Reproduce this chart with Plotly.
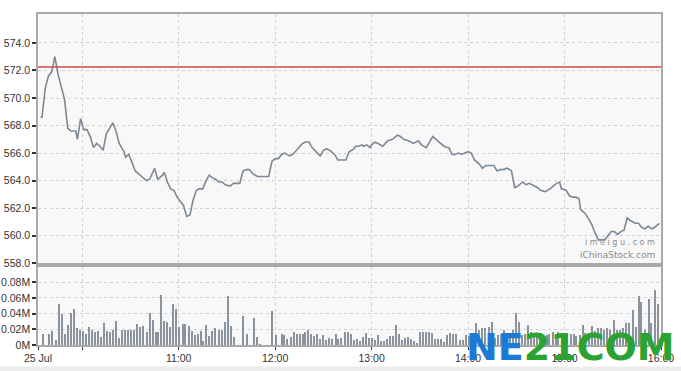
import plotly.graph_objects as go
from plotly.subplots import make_subplots
from datetime import datetime, timedelta

DAY = "2013-07-25"

price_times = [
    "09:34", "09:35", "09:37", "09:39", "09:41", "09:43", "09:45", "09:47", "09:49", "09:51",
    "09:53", "09:56", "09:57", "09:59", "10:01", "10:03", "10:05", "10:07", "10:09", "10:11",
    "10:13", "10:15", "10:17", "10:19", "10:21", "10:23", "10:26", "10:27", "10:29", "10:31",
    "10:33", "10:37", "10:40", "10:42", "10:45", "10:47", "10:50", "10:51", "10:53", "10:55",
    "10:57", "10:59", "11:01", "11:03", "11:05", "11:07", "11:09", "11:11", "11:13", "11:15",
    "11:17", "11:19", "11:21", "11:23", "11:25", "11:27", "11:29", "11:32", "11:34", "11:36",
    "11:38", "11:40", "11:42", "11:44", "11:46", "11:49", "11:52", "11:56", "11:58", "12:00",
    "12:02", "12:04", "12:06", "12:09", "12:11", "12:14", "12:17", "12:19", "12:21", "12:23",
    "12:26", "12:28", "12:30", "12:32", "12:34", "12:37", "12:39", "12:42", "12:44", "12:46",
    "12:49", "12:50", "12:52", "12:54", "12:55", "12:57", "12:59", "13:00", "13:02", "13:04",
    "13:07", "13:10", "13:13", "13:16", "13:18", "13:20", "13:23", "13:26", "13:29", "13:31",
    "13:34", "13:36", "13:38", "13:40", "13:43", "13:45", "13:47", "13:48", "13:50", "13:52",
    "13:54", "13:56", "13:58", "14:00", "14:02", "14:04", "14:07", "14:09", "14:11", "14:14",
    "14:16", "14:18", "14:20", "14:22", "14:24", "14:26", "14:27", "14:29", "14:31", "14:34",
    "14:36", "14:38", "14:40", "14:43", "14:45", "14:48", "14:51", "14:53", "14:55", "14:57",
    "14:58", "15:01", "15:03", "15:05", "15:07", "15:09", "15:10", "15:13", "15:15", "15:17",
    "15:19", "15:21", "15:23", "15:25", "15:27", "15:29", "15:31", "15:33", "15:35", "15:37",
    "15:39", "15:41", "15:44", "15:46", "15:48", "15:50", "15:52", "15:54", "15:56", "15:59",
]
price_values = [
    568.6, 568.6, 570.7, 571.6, 571.9, 573.0, 571.7, 570.7, 569.9, 567.8,
    567.6, 567.6, 567.0, 568.5, 567.7, 567.7, 567.2, 566.4, 566.7, 566.5,
    566.2, 567.4, 567.8, 568.2, 567.6, 566.7, 566.1, 565.7, 565.9, 565.3,
    564.7, 564.3, 564.0, 564.1, 564.9, 564.1, 564.4, 564.6, 563.9, 563.4,
    563.3, 562.8, 562.5, 562.2, 561.4, 561.5, 562.6, 563.3, 563.4, 563.4,
    564.0, 564.4, 564.2, 564.1, 563.9, 563.9, 563.7, 563.6, 563.8, 563.8,
    563.8, 564.7, 564.8, 564.8, 564.5, 564.3, 564.3, 564.3, 565.4, 565.6,
    565.6, 565.9, 566.0, 565.8, 565.9, 566.3, 566.7, 566.8, 566.8, 566.4,
    566.0, 565.8, 566.2, 566.3, 566.2, 565.9, 565.5, 565.5, 565.5, 566.1,
    566.3, 566.5, 566.5, 566.6, 566.5, 566.6, 566.4, 566.6, 566.8, 566.7,
    566.5, 566.9, 567.0, 567.3, 567.2, 567.0, 566.9, 566.7, 566.9, 566.6,
    566.4, 566.8, 567.2, 567.0, 566.7, 566.5, 566.4, 566.4, 565.9, 565.9,
    566.0, 565.9, 566.0, 566.1, 566.0, 565.5, 565.2, 564.9, 565.1, 565.1,
    565.1, 564.7, 564.8, 564.8, 564.9, 564.8, 564.7, 563.5, 563.6, 563.9,
    563.7, 563.8, 563.7, 563.5, 563.3, 563.2, 563.4, 563.6, 563.8, 563.9,
    563.4, 563.3, 562.9, 562.8, 562.8, 562.7, 561.9, 561.6, 561.2, 560.8,
    560.2, 559.7, 559.7, 559.7, 560.0, 560.3, 560.3, 560.1, 560.3, 560.4,
    561.3, 561.1, 560.9, 560.9, 560.6, 560.5, 560.7, 560.5, 560.6, 560.9,
]

# volume bars: minutes after 09:30 and volume in millions of shares
vol_minutes = [
    5.8, 9.5, 11.4, 13.5, 15.4, 17.2, 19.3, 21.2, 23.0, 24.9,
    26.8, 28.6, 30.5, 32.4, 34.0, 36.1, 38.0, 40.0, 41.7, 43.6,
    45.4, 47.3, 49.4, 51.0, 52.9, 54.8, 56.6, 58.7, 60.6, 62.4,
    64.3, 66.2, 68.0, 70.1, 72.0, 73.9, 75.7, 77.4, 79.3, 81.1,
    83.0, 84.9, 86.7, 88.6, 90.5, 92.5, 94.2, 96.3, 98.1, 100.0,
    101.9, 103.7, 105.4, 107.3, 109.1, 111.0, 112.9, 114.9, 116.8, 118.7,
    120.7, 122.4, 124.5, 130.3, 132.8, 136.7, 138.6, 140.5, 148.3, 150.4,
    154.2, 155.8, 157.7, 159.8, 161.6, 163.5, 165.4, 167.2, 168.9, 170.5,
    172.4, 174.3, 176.1, 178.0, 180.1, 181.9, 183.8, 185.7, 187.8, 189.4,
    191.3, 193.4, 195.2, 197.1, 199.0, 200.9, 202.7, 204.6, 206.5, 208.3,
    210.2, 212.1, 213.9, 216.0, 217.8, 219.7, 221.6, 223.4, 225.5, 227.4,
    229.2, 231.1, 233.0, 234.8, 236.7, 238.6, 240.2, 241.9, 243.8, 245.7,
    247.5, 249.4, 251.3, 253.1, 254.8, 256.9, 258.7, 260.6, 262.5, 265.1,
    267.0, 268.9, 270.9, 272.8, 275.1, 277.0, 279.0, 280.9, 282.8, 284.9,
    286.7, 288.6, 290.7, 292.5, 294.4, 296.3, 298.1, 300.0, 301.7, 303.7,
    305.6, 307.5, 309.3, 311.2, 313.1, 314.9, 317.0, 318.9, 320.7, 322.6,
    324.5, 326.3, 328.2, 330.1, 331.9, 333.8, 335.7, 337.5, 339.4, 341.3,
    343.1, 345.0, 346.9, 348.7, 350.6, 352.5, 354.3, 356.2, 358.1, 360.8,
    362.9, 364.7, 366.6, 368.5, 370.3, 372.4, 374.3, 376.4, 377.8, 379.9,
    382.6, 384.0, 386.5, 388.4,
]
vol_values = [
    0.015, 0.015, 0.019, 0.007, 0.053, 0.040, 0.014, 0.026, 0.042, 0.047,
    0.022, 0.020, 0.019, 0.015, 0.024, 0.020, 0.017, 0.018, 0.011, 0.029,
    0.018, 0.017, 0.020, 0.031, 0.009, 0.020, 0.020, 0.020, 0.020, 0.020,
    0.027, 0.023, 0.025, 0.017, 0.041, 0.033, 0.017, 0.017, 0.064, 0.031,
    0.030, 0.024, 0.053, 0.047, 0.024, 0.027, 0.027, 0.025, 0.018, 0.013,
    0.015, 0.019, 0.006, 0.026, 0.012, 0.018, 0.022, 0.020, 0.020, 0.030,
    0.063, 0.025, 0.011, 0.037, 0.014, 0.035, 0.011, 0.001, 0.044, 0.013,
    0.015, 0.013, 0.008, 0.011, 0.017, 0.015, 0.014, 0.015, 0.017, 0.020,
    0.014, 0.012, 0.015, 0.008, 0.013, 0.007, 0.010, 0.008, 0.015, 0.008,
    0.010, 0.017, 0.017, 0.015, 0.007, 0.008, 0.006, 0.011, 0.016, 0.010,
    0.010, 0.007, 0.013, 0.006, 0.006, 0.008, 0.012, 0.012, 0.026, 0.014,
    0.007, 0.010, 0.011, 0.008, 0.006, 0.003, 0.017, 0.017, 0.017, 0.017,
    0.016, 0.008, 0.008, 0.008, 0.005, 0.013, 0.016, 0.015, 0.015, 0.007,
    0.007, 0.013, 0.012, 0.011, 0.028, 0.020, 0.022, 0.022, 0.024, 0.030,
    0.009, 0.013, 0.014, 0.020, 0.011, 0.015, 0.020, 0.041, 0.030, 0.013,
    0.014, 0.026, 0.017, 0.013, 0.013, 0.013, 0.011, 0.013, 0.014, 0.017,
    0.014, 0.017, 0.011, 0.014, 0.014, 0.014, 0.014, 0.012, 0.013, 0.026,
    0.016, 0.014, 0.025, 0.019, 0.022, 0.022, 0.020, 0.022, 0.020, 0.032,
    0.020, 0.020, 0.022, 0.029, 0.029, 0.045, 0.024, 0.063, 0.056, 0.020,
    0.059, 0.029, 0.071, 0.053,
]

ref_price = 572.25
price_ticks = [558, 560, 562, 564, 566, 568, 570, 572, 574]
vol_ticks = [0, 0.02, 0.04, 0.06, 0.08]
vol_tick_text = ["0M", "0.02M", "0.04M", "0.06M", "0.08M"]
x_tick_times = ["09:32:30", "10:00", "11:00", "12:00", "13:00", "14:00", "15:00", "16:00"]
x_tick_text = ["25 Jul", "", "11:00", "12:00", "13:00", "14:00", "15:00", "16:00"]
x_range = ["09:32:30", "16:00"]

open_dt = datetime(2013, 7, 25, 9, 30)
px_x = [f"{DAY} {t}" for t in price_times]
vol_x = [open_dt + timedelta(minutes=m) for m in vol_minutes]

LINE = "#7d8894"
GRID = "#d2d2d2"
FRAME = "#a9a9a9"
FONT = dict(family="Liberation Sans, Arial, sans-serif", size=10.5, color="#333333")

fig = make_subplots(rows=2, cols=1, shared_xaxes=True)

fig.add_trace(go.Scatter(x=px_x, y=price_values, mode="lines",
                         line=dict(color=LINE, width=1.6), hoverinfo="x+y"),
              row=1, col=1)
fig.add_trace(go.Bar(x=vol_x, y=vol_values, marker=dict(color="#8b949d", line=dict(width=0)),
                     width=45000), row=2, col=1)

fig.add_shape(type="line", xref="x domain", yref="y", x0=0, x1=1, y0=ref_price, y1=ref_price,
              line=dict(color="#cc4b4b", width=1.6))

axis_common = dict(showline=True, linecolor=FRAME, linewidth=1.5, mirror=True,
                   showgrid=True, gridcolor=GRID, griddash="dot", gridwidth=1,
                   zeroline=False, tickfont=FONT, automargin=False)

xr = [f"{DAY} {t}" for t in x_range]
xtv = [f"{DAY} {t}" for t in x_tick_times]
fig.update_xaxes(range=xr, tickvals=xtv, ticktext=x_tick_text, **axis_common)
fig.update_xaxes(showticklabels=False, ticks="", row=1, col=1)
fig.update_xaxes(ticks="outside", ticklen=3, tickcolor="#333333", row=2, col=1)

fig.update_yaxes(range=[558, 576.1], tickvals=price_ticks,
                 ticktext=[f"{v:.1f}" for v in price_ticks],
                 ticks="outside", ticklen=4, tickwidth=1.5, tickcolor="#333333",
                 domain=[0.247, 1.0], row=1, col=1, **axis_common)
fig.update_yaxes(range=[0, 0.1], tickvals=vol_ticks, ticktext=vol_tick_text,
                 ticks="outside", ticklen=4, tickwidth=1.5, tickcolor="#333333",
                 domain=[0.0, 0.237], row=2, col=1, **axis_common)

fig.add_annotation(xref="paper", yref="paper", x=0.993, y=0.31, xanchor="right", yanchor="middle",
                   text="i m e i g u . c o m", showarrow=False,
                   font=dict(family="DejaVu Sans", size=8, color="#8a8a8a"))
fig.add_annotation(xref="paper", yref="paper", x=0.993, y=0.272, xanchor="right", yanchor="middle",
                   text="iChinaStock.com", showarrow=False,
                   font=dict(family="DejaVu Sans", size=9, color="#8a8a8a"))
fig.add_annotation(xref="paper", yref="paper", x=0.855, y=-0.006, xanchor="center", yanchor="middle",
                   text='<b><span style="color:#1c79d6">NE</span><span style="color:#2ba333">21COM</span></b>',
                   showarrow=False,
                   font=dict(family="DejaVu Sans", size=38, color="#2ba333"))

fig.add_shape(type="rect", xref="paper", yref="paper", x0=-0.1, x1=1.05, y0=-0.065, y1=-0.085,
              fillcolor="#ececec", line=dict(width=0), layer="below")

fig.update_layout(width=681, height=371, margin=dict(l=38, r=20, t=14, b=26),
                  paper_bgcolor="white", plot_bgcolor="#f8f8f8", showlegend=False,
                  bargap=0, font=FONT)

fig.write_html("out.html")
